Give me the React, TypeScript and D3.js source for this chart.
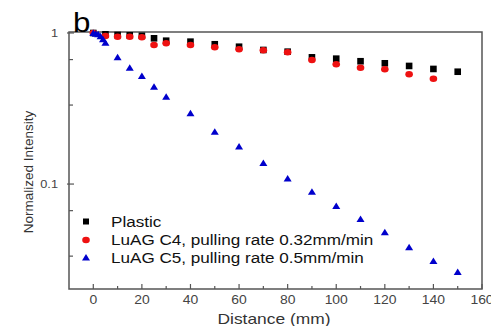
import React, { useEffect, useRef } from 'react';
import * as d3 from 'd3';

// distance (mm) / normalized intensity
const plasticX = [0, 5, 10, 15, 20, 25, 30, 40, 50, 60, 70, 80, 90, 100, 110, 120, 130, 140, 150];
const plasticY = [1, 0.98, 0.97, 0.965, 0.958, 0.922, 0.889, 0.876, 0.842, 0.811, 0.772, 0.752, 0.69, 0.676, 0.65, 0.63, 0.605, 0.578, 0.554];

const c4X = [0, 5, 10, 15, 20, 25, 30, 40, 50, 60, 70, 80, 90, 100, 110, 120, 130, 140];
const c4Y = [1, 0.955, 0.945, 0.945, 0.936, 0.833, 0.855, 0.833, 0.804, 0.78, 0.768, 0.745, 0.663, 0.621, 0.589, 0.575, 0.533, 0.498];

const c5X = [0, 1, 2, 3, 4, 5, 10, 15, 20, 25, 30, 40, 50, 60, 70, 80, 90, 100, 110, 120, 130, 140, 150];
const c5Y = [1, 0.99, 0.98, 0.95, 0.91, 0.86, 0.69, 0.589, 0.519, 0.441, 0.379, 0.294, 0.222, 0.177, 0.138, 0.109, 0.089, 0.0715, 0.0586, 0.0479, 0.0381, 0.031, 0.0262];

const xMajor = [0, 20, 40, 60, 80, 100, 120, 140, 160];
const xMinor = [10, 30, 50, 70, 90, 110, 130, 150];
const yMajor = [0.1, 1];
const yMinor = [1 / 30, 2 / 30, 1 / 3, 2 / 3];

const legendLabels = ['Plastic', 'LuAG C4, pulling rate 0.32mm/min', 'LuAG C5, pulling rate 0.5mm/min'];

const font = 'Liberation Sans, Arial, sans-serif';
// the source picture is a bit stretched sideways
const sx = 1.16;

const App = () => {
  const svgRef = useRef<SVGSVGElement>(null);

  useEffect(() => {
    const svg = d3.select(svgRef.current);
    svg.selectAll('*').remove();

    const left = 69, right = 482, top = 32, bottom = 289;

    const x = d3.scaleLinear().domain([-10, 160]).range([left, right]);
    const y = d3.scaleLog().domain([0.0202, 1.015]).range([bottom, top]);

    const g = svg.append('g');

    // frame
    g.append('rect')
      .attr('x', left).attr('y', top)
      .attr('width', right - left).attr('height', bottom - top)
      .attr('fill', 'none').attr('stroke', '#555').attr('stroke-width', 1.5);

    // x ticks (inward)
    g.selectAll('.xmaj').data(xMajor).enter().append('line')
      .attr('x1', d => x(d)).attr('x2', d => x(d))
      .attr('y1', bottom).attr('y2', bottom - 5)
      .attr('stroke', '#555').attr('stroke-width', 1.2);
    g.selectAll('.xmin').data(xMinor).enter().append('line')
      .attr('x1', d => x(d)).attr('x2', d => x(d))
      .attr('y1', bottom).attr('y2', bottom - 3)
      .attr('stroke', '#555').attr('stroke-width', 1.2);
    g.selectAll('.xlab').data(xMajor).enter().append('text')
      .attr('transform', d => `translate(${x(d)},${bottom + 15}) scale(${sx},1)`)
      .attr('text-anchor', 'middle')
      .attr('font-family', font).attr('font-size', 12).attr('fill', '#444')
      .text(d => d);

    // y ticks
    g.selectAll('.ymaj').data(yMajor).enter().append('line')
      .attr('x1', left - 2).attr('x2', left + 5)
      .attr('y1', d => y(d)).attr('y2', d => y(d))
      .attr('stroke', '#555').attr('stroke-width', 1.2);
    g.selectAll('.ymin').data(yMinor).enter().append('line')
      .attr('x1', left).attr('x2', left + 4)
      .attr('y1', d => y(d)).attr('y2', d => y(d))
      .attr('stroke', '#555').attr('stroke-width', 1.2);
    g.selectAll('.ylab').data(yMajor).enter().append('text')
      .attr('transform', d => `translate(${left - 11},${y(d) + 4}) scale(${sx},1)`)
      .attr('text-anchor', 'end')
      .attr('font-family', font).attr('font-size', 11).attr('fill', '#444')
      .text(d => d);

    // axis titles
    g.append('text')
      .attr('transform', 'translate(33,172) rotate(-90)')
      .attr('text-anchor', 'middle')
      .attr('font-family', font).attr('font-size', 13.5).attr('fill', '#333')
      .text('Normalized Intensity');
    g.append('text')
      .attr('transform', `translate(274,324) scale(${sx},1)`)
      .attr('text-anchor', 'middle')
      .attr('font-family', font).attr('font-size', 15).attr('fill', '#333')
      .text('Distance (mm)');

    g.append('text')
      .attr('transform', `translate(73,32) scale(${sx},1)`)
      .attr('font-family', font).attr('font-size', 27).attr('fill', '#000')
      .text('b');

    const tri = (cx: number, cy: number) => `M${cx - 4},${cy + 3}L${cx + 4},${cy + 3}L${cx},${cy - 3.5}Z`;

    // markers
    g.selectAll('.plastic').data(plasticX).enter().append('rect')
      .attr('x', d => x(d) - 3.3).attr('y', (d, i) => y(plasticY[i]) - 3.3)
      .attr('width', 6.6).attr('height', 6.6).attr('fill', '#000');
    g.selectAll('.c4').data(c4X).enter().append('ellipse')
      .attr('cx', d => x(d)).attr('cy', (d, i) => y(c4Y[i]))
      .attr('rx', 3.8).attr('ry', 3.3).attr('fill', '#ee1111');
    g.selectAll('.c5').data(c5X).enter().append('path')
      .attr('d', (d, i) => tri(x(d), y(c5Y[i])))
      .attr('fill', '#0000cc');

    // legend
    const ly = [221.5, 240, 257.5];
    g.append('rect').attr('x', 83).attr('y', ly[0] - 3).attr('width', 6).attr('height', 6).attr('fill', '#000');
    g.append('ellipse').attr('cx', 86).attr('cy', ly[1]).attr('rx', 3.8).attr('ry', 3.3).attr('fill', '#ee1111');
    g.append('path').attr('d', tri(86, ly[2])).attr('fill', '#0000cc');
    g.selectAll('.leg').data(legendLabels).enter().append('text')
      .attr('transform', (d, i) => `translate(111,${ly[i] + 5}) scale(${sx + 0.02},1)`)
      .attr('font-family', font).attr('font-size', 14.5).attr('fill', '#111')
      .text(d => d);
  }, []);

  return (
    <div style={{ position: 'absolute', left: 0, top: 0 }}>
      <svg ref={svgRef} width={491} height={326} style={{ display: 'block', background: '#fff' }}></svg>
    </div>
  );
};

export default App;
